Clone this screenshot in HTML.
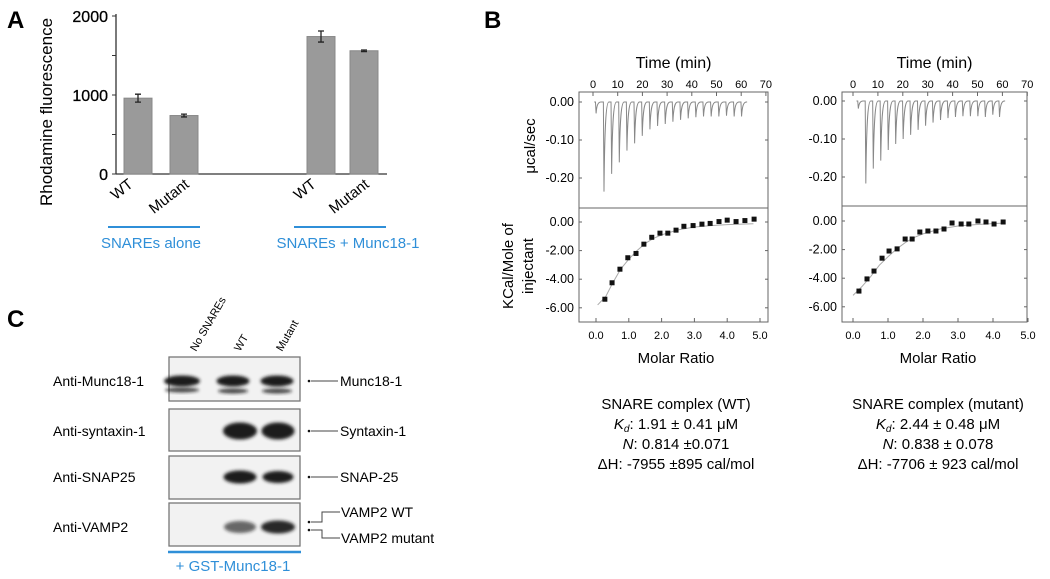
<!DOCTYPE html>
<html><head><meta charset="utf-8"><style>
body{margin:0;background:#fff}
svg{display:block;font-family:"Liberation Sans",Arial,sans-serif}
</style></head><body>
<svg id="fig" width="1050" height="579" viewBox="0 0 1050 579">
<text x="7" y="28" font-size="24" font-weight="bold">A</text>
<text x="484" y="28" font-size="24" font-weight="bold">B</text>
<text x="7" y="327" font-size="24" font-weight="bold">C</text>
<g id="pa"></g>
<g id="pb1"></g>
<g id="pb2"></g>
<g id="pc"></g>
</svg>
<script>
// Panel A data
const barCats=["WT","Mutant","WT","Mutant"];
const barVals=[960,740,1740,1560];
const barErrs=[50,18,70,10];
const aTicks=[0,1000,2000];
// ITC WT
const wtInjT=[1,4.2,7.3,10.4,13.5,16.6,19.7,22.8,25.9,29,32.1,35.2,38.3,41.4,44.5,47.6,50.7,53.8,56.9,59.9];
const wtInjD=[-0.03,-0.236,-0.189,-0.159,-0.128,-0.109,-0.089,-0.072,-0.063,-0.058,-0.052,-0.047,-0.043,-0.04,-0.038,-0.038,-0.038,-0.036,-0.038,-0.038];
const wtMR=[0.27,0.49,0.73,0.97,1.22,1.46,1.7,1.95,2.19,2.44,2.68,2.96,3.23,3.48,3.75,4.0,4.27,4.54,4.82];
const wtH=[-5.4,-4.25,-3.3,-2.5,-2.2,-1.55,-1.07,-0.78,-0.78,-0.57,-0.3,-0.25,-0.15,-0.1,0.03,0.13,0.03,0.1,0.2];
const wtFitX=[0.05,0.3,0.5,0.75,1,1.25,1.5,1.75,2,2.5,3,3.5,4,4.8];
const wtFitY=[-5.8,-5.2,-4.3,-3.3,-2.6,-2.0,-1.5,-1.15,-0.9,-0.55,-0.35,-0.25,-0.18,-0.12];
// ITC mutant
const muInjT=[1.9,4.9,7.9,10.9,13.9,16.9,19.9,22.9,25.9,28.9,31.9,34.9,37.9,40.9,43.9,46.9,49.9,52.9,55.9,58.6];
const muInjD=[-0.02,-0.217,-0.178,-0.157,-0.129,-0.113,-0.1,-0.089,-0.076,-0.065,-0.057,-0.05,-0.045,-0.042,-0.04,-0.04,-0.04,-0.042,-0.036,-0.042];
const muMR=[0.17,0.4,0.6,0.83,1.03,1.26,1.49,1.69,1.91,2.14,2.37,2.6,2.83,3.09,3.31,3.57,3.8,4.03,4.29];
const muH=[-4.9,-4.05,-3.5,-2.6,-2.1,-1.95,-1.26,-1.26,-0.77,-0.7,-0.7,-0.56,-0.14,-0.21,-0.21,0,-0.07,-0.21,-0.07];
const muFitX=[0,0.25,0.5,0.75,1,1.25,1.5,1.75,2,2.5,3,3.5,4,4.3];
const muFitY=[-5.2,-4.6,-3.9,-3.1,-2.5,-1.95,-1.5,-1.15,-0.9,-0.55,-0.35,-0.25,-0.18,-0.15];
const timeTicks=[0,10,20,30,40,50,60,70];
const upTicks=[0,-0.1,-0.2];
const loTicks=[0,-2,-4,-6];
const mrTicks=[0,1,2,3,4,5];

const NS="http://www.w3.org/2000/svg";
function mk(p,tag,at,txt){const e=document.createElementNS(NS,tag);for(const k in at)e.setAttribute(k,at[k]);if(txt!==undefined)e.textContent=txt;p.appendChild(e);return e;}

// ---- Panel A
(function(){
const g=document.getElementById('pa');
const y=v=>174-v*0.079;
const x0=116;
mk(g,'line',{x1:x0,y1:14,x2:x0,y2:174,stroke:'#333','stroke-width':1.3});
mk(g,'line',{x1:x0,y1:174,x2:387,y2:174,stroke:'#333','stroke-width':1.3});
[0,500,1000,1500,2000].forEach(v=>{mk(g,'line',{x1:x0-4,y1:y(v),x2:x0,y2:y(v),stroke:'#333'});});
aTicks.forEach(v=>{const t=mk(g,'text',{x:108,y:y(v)+6,'font-size':16,'text-anchor':'end',stroke:'#000','stroke-width':0.3},String(v));

});
const yt=mk(g,'text',{x:0,y:0,'font-size':17,'text-anchor':'middle',transform:'translate(52,112) rotate(-90)'},'Rhodamine fluorescence');

const bx=[124,170,307,350];
barVals.forEach((v,i)=>{
 const r=mk(g,'rect',{x:bx[i],y:y(v),width:28,height:174-y(v),fill:'#9a9a9a',stroke:'#888'});
 
 
 const cx=bx[i]+14,e=barErrs[i];
 mk(g,'path',{d:`M${cx},${y(v+e)}V${y(v-e)}M${cx-3},${y(v+e)}h6M${cx-3},${y(v-e)}h6`,stroke:'#222','stroke-width':1.3,fill:'none'});
 const lx=bx[i]+(i%2?20:10);
 const t=mk(g,'text',{x:0,y:0,'font-size':15,'text-anchor':'end',transform:`translate(${lx},${186}) rotate(-38)`},barCats[i]);
 
});
[[108,200,151,'SNAREs alone'],[294,386,348,'SNAREs + Munc18-1']].forEach(a=>{
 mk(g,'line',{x1:a[0],y1:227,x2:a[1],y2:227,stroke:'#2f8fd8','stroke-width':2});
 const t=mk(g,'text',{x:a[2],y:248,'font-size':15,'text-anchor':'middle',fill:'#2f8fd8'},a[3]);
 
});
})();

// ---- Panel B
function itc(id,o){
const g=document.getElementById(id);
const tx=t=>o.t0+t*o.tk, uy=v=>o.u0-v*380, ly=v=>o.l0-v*14.3, mx=m=>o.m0+m*o.mk;
mk(g,'rect',{x:o.L,y:92,width:o.R-o.L,height:230,fill:'none',stroke:'#666'});
mk(g,'line',{x1:o.L,y1:o.div,x2:o.R,y2:o.div,stroke:'#666'});
const tt=mk(g,'text',{x:(o.L+o.R)/2,y:68,'font-size':16,'text-anchor':'middle'},'Time (min)');

timeTicks.forEach(t=>{mk(g,'text',{x:tx(t),y:88,'font-size':11,'text-anchor':'middle'},String(t));
 mk(g,'line',{x1:tx(t),y1:92,x2:tx(t),y2:96,stroke:'#666'});});
upTicks.forEach(v=>{mk(g,'text',{x:o.L-5,y:uy(v)+4,'font-size':12.5,'text-anchor':'end'},v.toFixed(2));
 mk(g,'line',{x1:o.L,y1:uy(v),x2:o.L+3,y2:uy(v),stroke:'#666'});mk(g,'line',{x1:o.R-3,y1:uy(v),x2:o.R,y2:uy(v),stroke:'#666'});});
loTicks.forEach(v=>{mk(g,'text',{x:o.L-5,y:ly(v)+4,'font-size':12.5,'text-anchor':'end'},v.toFixed(2));
 mk(g,'line',{x1:o.L,y1:ly(v),x2:o.L+3,y2:ly(v),stroke:'#666'});mk(g,'line',{x1:o.R-3,y1:ly(v),x2:o.R,y2:ly(v),stroke:'#666'});});
mrTicks.forEach(m=>{mk(g,'text',{x:mx(m),y:339,'font-size':11,'text-anchor':'middle'},m.toFixed(1));
 mk(g,'line',{x1:mx(m),y1:318,x2:mx(m),y2:322,stroke:'#666'});});
const mt=mk(g,'text',{x:o.mc,y:363,'font-size':15,'text-anchor':'middle'},'Molar Ratio');

// thermogram
let d=`M${tx(o.injT[0]-0.5)},${uy(0)}`;
o.injT.forEach((t,i)=>{const dep=o.injD[i];
 d+=`L${tx(t)},${uy(0)}L${tx(t+0.25)},${uy(dep)}C${tx(t+0.5)},${uy(dep*0.3)} ${tx(t+1)},${uy(0)} ${tx(t+2.2)},${uy(0)}`;});
d+=`L${tx(o.injT[o.injT.length-1]+2.5)},${uy(0)}`;
const p=mk(g,'path',{d:d,fill:'none',stroke:'#888','stroke-width':1});

// fit
const fl=mk(g,'polyline',{points:o.fx.map((m,i)=>mx(m)+','+ly(o.fy[i])).join(' '),fill:'none',stroke:'#aaa','stroke-width':1});

o.mr.forEach((m,i)=>{const r=mk(g,'rect',{x:mx(m)-2.5,y:ly(o.h[i])-2.5,width:5,height:5,fill:'#111'});
 });
o.lines.forEach((s,i)=>{const t=mk(g,'text',{x:o.mc,y:409+i*20,'font-size':15,'text-anchor':'middle'});t.innerHTML=s;
 });
}
itc('pb1',{L:579,R:768,div:208,t0:593,tk:2.47,u0:102,l0:222,m0:596,mk:32.8,mc:676,injT:wtInjT,injD:wtInjD,mr:wtMR,h:wtH,fx:wtFitX,fy:wtFitY,
 lines:['SNARE complex (WT)','<tspan font-style="italic">K</tspan><tspan font-style="italic" font-size="10" dy="3">d</tspan><tspan dy="-3">: 1.91 ± 0.41 μM</tspan>','<tspan font-style="italic">N</tspan>: 0.814 ±0.071','ΔH: -7955 ±895 cal/mol']});
itc('pb2',{L:842,R:1027,div:206,t0:853,tk:2.49,u0:101,l0:221,m0:853,mk:35,mc:938,injT:muInjT,injD:muInjD,mr:muMR,h:muH,fx:muFitX,fy:muFitY,
 lines:['SNARE complex (mutant)','<tspan font-style="italic">K</tspan><tspan font-style="italic" font-size="10" dy="3">d</tspan><tspan dy="-3">: 2.44 ± 0.48 μM</tspan>','<tspan font-style="italic">N</tspan>: 0.838 ± 0.078','ΔH: -7706 ± 923 cal/mol']});
(function(){const g=document.getElementById('pb1');
const a=mk(g,'text',{x:0,y:0,'font-size':15,'text-anchor':'middle',transform:'translate(535,146) rotate(-90)'},'μcal/sec');

const b=mk(g,'text',{x:0,y:0,'font-size':15,'text-anchor':'middle',transform:'translate(513,266) rotate(-90)'},'KCal/Mole of');

const c=mk(g,'text',{x:0,y:0,'font-size':15,'text-anchor':'middle',transform:'translate(533,266) rotate(-90)'},'injectant');

})();

// ---- Panel C
(function(){
const g=document.getElementById('pc');
const defs=mk(g,'defs',{});
const f=mk(defs,'filter',{id:'bl',x:'-20%',y:'-50%',width:'140%',height:'200%'});mk(f,'feGaussianBlur',{stdDeviation:1.6});
const rows=[[357,401,'Anti-Munc18-1','Munc18-1',381],[409,451,'Anti-syntaxin-1','Syntaxin-1',431],[456,499,'Anti-SNAP25','SNAP-25',477],[503,546,'Anti-VAMP2',null,527]];
rows.forEach(r=>{
 const b=mk(g,'rect',{x:169,y:r[0],width:131,height:r[1]-r[0],fill:'#f2f2f2',stroke:'#777','stroke-width':1.3});
 
 const t=mk(g,'text',{x:53,y:r[4]+5,'font-size':14},r[2]);
 
 if(r[3]){mk(g,'circle',{cx:309,cy:r[4],r:1.3,fill:'#111'});mk(g,'line',{x1:311,y1:r[4],x2:338,y2:r[4],stroke:'#444'});
  const u=mk(g,'text',{x:340,y:r[4]+5,'font-size':14},r[3]);}
});
const bands=[[182,381,36,9,1],[233,381,33,9,1],[277,381,33,9,1],[182,390,34,3,0.8],[233,391,30,3,0.8],[277,391,30,3,0.8],
 [240,431,34,15,1],[278,431,33,15,1],[240,477,33,11,1],[278,477,31,10,1],[240,527,32,10,0.65],[278,527,34,11,0.95]];
bands.forEach(b=>{const e=mk(g,'ellipse',{cx:b[0],cy:b[1],rx:b[2]/2,ry:b[3]/2+1,fill:'#1a1a1a','fill-opacity':b[4],filter:'url(#bl)'});
 });
mk(g,'circle',{cx:309,cy:522,r:1.3,fill:'#111'});mk(g,'circle',{cx:309,cy:530,r:1.3,fill:'#111'});
mk(g,'path',{d:'M311,522H322V512H340M311,530H322V538H340',fill:'none',stroke:'#444'});
const v1=mk(g,'text',{x:341,y:517,'font-size':14},'VAMP2 WT');
const v2=mk(g,'text',{x:341,y:543,'font-size':14},'VAMP2 mutant');
[[196,'No SNAREs'],[240,'WT'],[282,'Mutant']].forEach(l=>{const t=mk(g,'text',{x:0,y:0,'font-size':11,transform:`translate(${l[0]},352) rotate(-60)`},l[1]);
 });
mk(g,'line',{x1:168,y1:552,x2:301,y2:552,stroke:'#2f8fd8','stroke-width':2.5});
const gt=mk(g,'text',{x:233,y:571,'font-size':15,'text-anchor':'middle',fill:'#2f8fd8'},'+ GST-Munc18-1');

})();
</script>
</body></html>
